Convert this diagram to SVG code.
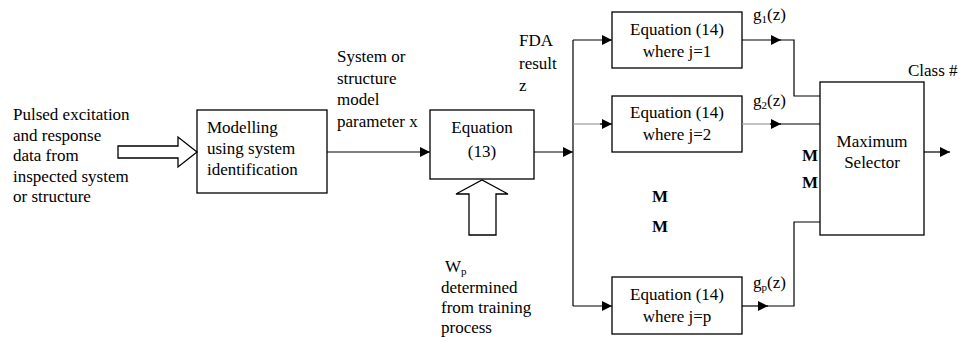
<svg xmlns="http://www.w3.org/2000/svg" width="961" height="341" viewBox="0 0 961 341" font-family="'Liberation Serif', 'DejaVu Serif', serif">
<style>
text{font-family:"Liberation Serif","DejaVu Serif",serif;font-size:17px;fill:#000}
.c{text-anchor:middle}
.b{font-weight:bold}
.box{fill:#fff;stroke:#000;stroke-width:1.3}
.ln{fill:none;stroke:#000;stroke-width:1.2}
.gr{fill:none;stroke:#999;stroke-width:1.2}
.hol{fill:#fff;stroke:#000;stroke-width:1.3}
.sub{font-size:11px}
</style>
<defs>
<marker id="ah" markerWidth="10" markerHeight="10" refX="10" refY="5" orient="auto" markerUnits="userSpaceOnUse">
<path d="M0,0 L10,5 L0,10 Z" fill="#000"/>
</marker>
</defs>
<rect width="961" height="341" fill="#fff"/>

<g id="input-label">
<text x="13" y="120">Pulsed excitation</text>
<text x="13" y="140.5">and response</text>
<text x="13" y="161">data from</text>
<text x="13" y="181.5">inspected system</text>
<text x="13" y="202">or structure</text>
</g>

<g id="modelling">
<rect class="box" x="197" y="110" width="130" height="83"/>
<text x="207" y="133">Modelling</text>
<text x="207" y="154">using system</text>
<text x="207" y="175">identification</text>
</g>

<g id="param-label">
<text x="337" y="62">System or</text>
<text x="337" y="83.5">structure</text>
<text x="337" y="105">model</text>
<text x="337" y="126.5">parameter x</text>
</g>

<g id="eq13">
<rect class="box" x="430" y="110" width="104" height="69"/>
<text class="c" x="482" y="133">Equation</text>
<text class="c" x="482" y="157">(13)</text>
</g>

<g id="wp-label">
<text x="445" y="272">W<tspan class="sub" dy="3">p</tspan></text>
<text x="441" y="293">determined</text>
<text x="441" y="313">from training</text>
<text x="441" y="333">process</text>
</g>

<g id="fda-label">
<text x="519" y="46">FDA</text>
<text x="519" y="69">result</text>
<text x="519" y="91">z</text>
</g>

<g id="eq14-1">
<rect class="box" x="612" y="12" width="130" height="56"/>
<text class="c" x="677" y="35">Equation (14)</text>
<text class="c" x="677" y="57">where j=1</text>
</g>

<g id="eq14-2">
<rect class="box" x="612" y="96" width="130" height="56"/>
<text class="c" x="677" y="118">Equation (14)</text>
<text class="c" x="677" y="140">where j=2</text>
</g>

<g id="eq14-p">
<rect class="box" x="612" y="277" width="130" height="57"/>
<text class="c" x="677" y="300">Equation (14)</text>
<text class="c" x="677" y="322">where j=p</text>
</g>

<g id="max-selector">
<rect class="box" x="820" y="82" width="104" height="153"/>
<text class="c" x="872" y="147">Maximum</text>
<text class="c" x="872" y="168">Selector</text>
</g>

<g id="labels">
<text x="753" y="20">g<tspan class="sub" dy="3">1</tspan><tspan dy="-3">(z)</tspan></text>
<text x="753" y="106">g<tspan class="sub" dy="3">2</tspan><tspan dy="-3">(z)</tspan></text>
<text x="753" y="288">g<tspan class="sub" dy="3">p</tspan><tspan dy="-3">(z)</tspan></text>
<text x="908" y="76">Class #</text>
<text class="b" x="652" y="202">M</text>
<text class="b" x="652" y="232">M</text>
<text class="b" x="802" y="161">M</text>
<text class="b" x="802" y="188">M</text>
</g>

<g id="connectors">
<polygon class="hol" points="118,146 178,146 178,137 197,152 178,167 178,158 118,158"/>
<polygon class="hol" points="469,235 469,194 456,194 482,180 508,194 496,194 496,235"/>
<line class="ln" x1="327" y1="152" x2="430" y2="152" marker-end="url(#ah)"/>
<line class="ln" x1="534" y1="152" x2="573" y2="152" marker-end="url(#ah)"/>
<line class="ln" x1="573" y1="40" x2="573" y2="306"/>
<line class="ln" x1="573" y1="40" x2="612" y2="40" marker-end="url(#ah)"/>
<line class="gr" x1="573" y1="124" x2="602" y2="124"/>
<line class="ln" x1="600" y1="124" x2="612" y2="124" marker-end="url(#ah)"/>
<line class="ln" x1="573" y1="306" x2="612" y2="306" marker-end="url(#ah)"/>
<line class="ln" x1="742" y1="40" x2="781" y2="40" marker-end="url(#ah)"/>
<polyline class="ln" points="780,40 794,40 794,96 820,96"/>
<line class="gr" x1="742" y1="124" x2="772" y2="124"/>
<line class="ln" x1="770" y1="124" x2="781" y2="124" marker-end="url(#ah)"/>
<line class="ln" x1="780" y1="124" x2="820" y2="124"/>
<line class="ln" x1="742" y1="306" x2="768" y2="306" marker-end="url(#ah)"/>
<polyline class="ln" points="767,306 794,306 794,222 820,222"/>
<line class="ln" x1="924" y1="152" x2="950" y2="152" marker-end="url(#ah)"/>
</g>
</svg>
